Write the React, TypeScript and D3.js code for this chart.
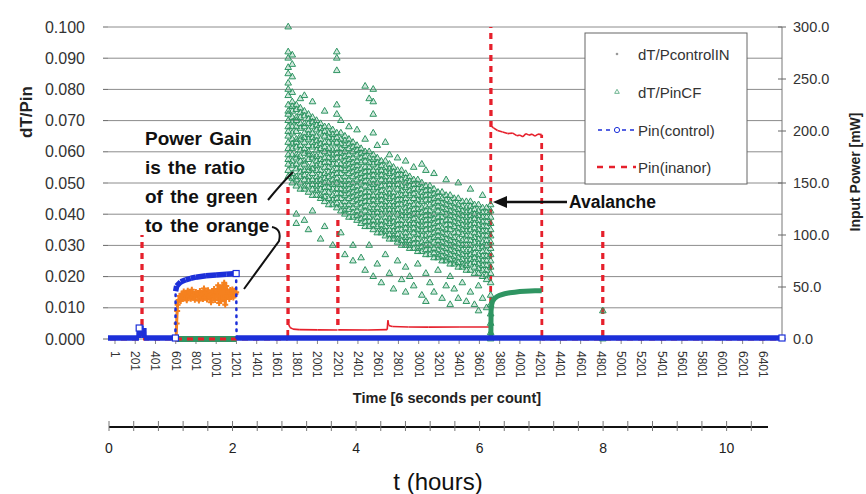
import React from 'react';
import * as d3 from 'd3';

const width = 866;
const height = 494;
const font = '"Liberation Sans", Arial, sans-serif';

// axis ticks
const leftTicks = [0, 0.01, 0.02, 0.03, 0.04, 0.05, 0.06, 0.07, 0.08, 0.09, 0.1];
const rightTicks = [0, 50, 100, 150, 200, 250, 300];
const countLabels = [1, 201, 401, 601, 801, 1001, 1201, 1401, 1601, 1801, 2001, 2201, 2401, 2601, 2801, 3001,
  3201, 3401, 3601, 3801, 4001, 4201, 4401, 4601, 4801, 5001, 5201, 5401, 5601, 5801, 6001, 6201, 6401];
const hourLabels = [0, 2, 4, 6, 8, 10];
const hourMinor = [0, 0.4, 0.8, 1.2, 1.6, 2, 2.4, 2.8, 3.2, 3.6, 4, 4.4, 4.8, 5.2, 5.6, 6, 6.4, 6.8, 7.2, 7.6,
  8, 8.4, 8.8, 9.2, 9.6, 10, 10.4];

// dT/PinCF scatter, [count, values in 1/1000]
const greenCols: [number, string][] = [
  [1712, '100 92 90 87 85 82 80 78 75 73 72 70 68 66.5 65 63 61 59 57.5 56 54 52'],
  [1752, '91 88 84 79 76 74.5 73 71 69.5 68 66 64 62.5 61 59 57 55.5 53 51.5 50'],
  [1792, '75 73.5 71 70 68 66.5 64 63 61.5 59 58 56 54.5 52 51 49 40 37'],
  [1832, '77 74 72.5 71 69 67.5 65 64 62 60.5 58.5 57 55 53.5 52 50 48'],
  [1872, '78 73 71.5 69 68 66 64.5 63 61 59.5 57 56 54 52.5 51 49 48 38'],
  [1912, '72 70.5 69 67 65.5 64 62 60 59 57.5 55 54 52 50.5 49 47 35'],
  [1952, '76 71 69.5 68 66 64.5 63 61.5 59 58 56 54.5 53 51 49.5 48 46 41'],
  [1992, '70 68.5 67 65 63.5 62 60.5 58.5 57 55.5 54 52 50.5 49 47.5 46'],
  [2032, '69 67.5 66 64 62.5 61 59 57.5 56 54 52.5 51 49.5 48 46 45 32'],
  [2072, '73 68 66.5 65 63 61.5 60 58 56.5 55 53 51.5 50 48.5 47 45.5 44 36'],
  [2112, '68 66 64.5 63 61 59.5 58 56.5 55 53.5 52 50 48.5 47 45 43'],
  [2152, '67 65.5 64 62.5 60.5 59 57.5 56 54 52.5 51 49.5 48 46 44.5 43 30'],
  [2192, '92 90 86 75 72 66 64.5 63 61 59.5 58 56 54.5 53 51.5 50 48 46.5 45 43.5 42'],
  [2232, '70 66 64 62.5 61 59.5 58 56 54.5 53 51 49.5 48 46.5 45 43 41 34'],
  [2272, '65 63.5 62 60 58.5 57 55.5 54 52 50.5 49 47.5 46 44 42.5 41 40 27'],
  [2312, '68 64 62.5 61 59 57.5 56 54.5 53 51 49.5 48 46.5 45 43 41.5 39'],
  [2352, '63 61.5 60 58 56.5 55 53.5 52 50 48.5 47 45.5 44 42 40.5 39 30 25'],
  [2392, '67 62 60.5 59 57 55.5 54 52.5 51 49 47.5 46 44.5 43 41 39.5 38'],
  [2432, '61 59.5 58 56.5 54.5 53 51.5 50 48 46.5 45 43.5 42 40 38.5 37 26'],
  [2472, '81 64 60 58.5 57 55 53.5 52 50.5 49 47 45.5 44 42.5 41 39 37.5 36 22'],
  [2512, '77 60 58 56.5 55 53.5 52 50 48.5 47 45.5 44 42 40.5 39 37.5 36 30'],
  [2552, '80 76 72 66 59 57.5 56 54 52.5 51 49.5 48 46 44.5 43 41.5 40 38 36.5 35 20'],
  [2592, '62 58 56.5 55 53.5 52 50 48.5 47 45.5 44 42 40.5 39 37.5 36 34 24'],
  [2632, '57 55.5 54 52.5 51 49 47.5 46 44.5 43 41.5 40 38 36.5 35 34 18'],
  [2672, '63 57 55 53.5 52 50.5 49 47 45.5 44 42.5 41 39 37.5 36 34.5 33 27'],
  [2712, '59 56 54.5 53 51 49.5 48 46.5 45 43 41.5 40 38.5 37 35 33.5 32 21'],
  [2752, '55 53.5 52 50.5 49 47 45.5 44 42.5 41 39 37.5 36 34.5 33 32 16'],
  [2792, '58 54 52.5 51 49.5 48 46 44.5 43 41.5 40 38 36.5 35 33.5 32 31 25'],
  [2832, '54 52.5 51 49 47.5 46 44.5 43 41 39.5 38 36.5 35 33 31.5 30 19'],
  [2872, '57 53 51.5 50 48.5 46.5 45 43.5 42 40.5 39 37 35.5 34 32.5 31 30 23 15'],
  [2912, '52 50.5 49 47.5 46 44 42.5 41 39.5 38 36.5 35 33 31.5 30 29 20'],
  [2952, '55 51 49.5 48 46.5 45 43 41.5 40 38.5 37 35.5 34 32 30.5 29 17'],
  [2992, '51 49.5 48 46 44.5 43 41.5 40 38 36.5 35 33.5 32 30.5 29 28 24'],
  [3032, '56 50 48.5 47 45.5 44 42 40.5 39 37.5 36 34.5 33 31 29.5 28 14'],
  [3072, '54 49 47.5 46 44.5 42.5 41 39.5 38 36.5 35 33 31.5 30 28.5 27 21 12'],
  [3112, '49 47.5 46 44.5 43 41 39.5 38 36.5 35 33.5 32 30 28.5 27 18'],
  [3152, '53 48 46.5 45 43.5 42 40 38.5 37 35.5 34 32.5 31 29 27.5 26 15'],
  [3192, '47 45.5 44 42.5 41 39 37.5 36 34.5 33 31.5 30 28.5 27 26 22'],
  [3232, '47 45 43.5 42 40.5 39 37.5 35.5 34 32.5 31 29.5 28 26.5 25 13'],
  [3272, '51 46 44.5 43 41.5 40 38 36.5 35 33.5 32 30.5 29 27.5 26 25 17'],
  [3312, '46 44 42.5 41 39.5 38 36.5 35 33 31.5 30 28.5 27 25.5 24 20 11'],
  [3352, '45 43.5 42 40.5 39 37.5 36 34 32.5 31 29.5 28 26.5 25 24 16'],
  [3392, '50 45 43 41.5 40 38.5 37 35.5 34 32 30.5 29 27.5 26 24.5 23 13'],
  [3432, '44 42.5 41 39.5 38 36.5 35 33.5 31.5 30 28.5 27 25.5 24 23 18'],
  [3472, '44 42 40.5 39 37.5 36 34.5 33 31.5 30 28 26.5 25 23.5 22 12'],
  [3512, '48 44 42.5 41 39.5 38 36.5 35 33 31.5 30 28.5 27 25.5 24 22 15'],
  [3552, '43 41.5 40 38.5 37 35.5 34 32.5 31 29 27.5 26 24.5 23 21 11'],
  [3592, '43 41 39.5 38 36.5 35 33.5 32 30.5 29 27 25.5 24 22.5 21 17 9'],
  [3632, '46 42 40.5 39 37.5 36 34.5 33 31 29.5 28 26.5 25 23.5 22 20 13'],
  [3672, '42 40.5 39 37.5 36 34.5 33 31.5 30 28 26.5 25 23.5 22 20.5 19 10'],
  [3712, '43 41 39 37 35 33 31 29 27 25 23 21 18 14 11 8 5 2 0'],
  [4820, '9 0'],
];

// dT/PinCF after the avalanche, [count, 1/1000]
const greenAfter: [number, number][] = [
  [3714, 0], [3716, 9], [3722, 11], [3732, 12.2], [3750, 13], [3775, 13.6], [3800, 14], [3850, 14.5],
  [3900, 14.8], [3950, 15], [4000, 15.2], [4050, 15.3], [4100, 15.4], [4150, 15.5], [4216, 15.5],
];
const greenBase: [number, number][] = [[600, 0], [1200, 0]];

// dT/PcontrolIN, [count, 1/1000]
const orange: [number, number][] = [
  [605, 0], [610, 5], [615, 9], [620, 11], [630, 12.5], [640, 13.8], [650, 12.2], [660, 14.5], [670, 12.8],
  [680, 15.2], [690, 13.1], [700, 14.6], [710, 12.4], [720, 15.5], [730, 13.6], [740, 14.9], [750, 12.9],
  [760, 15.8], [770, 13.3], [780, 14.2], [790, 12.6], [800, 15.1], [810, 13.9], [820, 14.7], [830, 12.3],
  [840, 15.4], [850, 13.5], [860, 14.4], [870, 12.8], [880, 16.2], [890, 13.2], [900, 14.8], [910, 12.7],
  [920, 15.6], [930, 13.4], [940, 14.1], [950, 11.8], [960, 15.3], [970, 13.7], [980, 16.0], [990, 12.5],
  [1000, 15.0], [1010, 13.8], [1020, 17.2], [1030, 11.5], [1040, 16.4], [1050, 12.2], [1060, 16.8],
  [1070, 13.0], [1080, 18.0], [1090, 11.0], [1100, 17.0], [1110, 13.9], [1120, 15.2], [1130, 12.8],
  [1140, 15.7], [1150, 14.0], [1160, 15.9], [1170, 13.3], [1180, 15.5], [1190, 14.4], [1198, 15.0],
];

// Pin(control) mW
const blue: [number, number][] = [
  [-68, 0], [238, 0], [240, 9.6], [286, 9.6], [288, 0], [598, 0], [600, 45], [610, 50], [650, 54],
  [700, 56], [750, 57.4], [800, 58.5], [900, 59.8], [1000, 60.6], [1100, 61.2], [1198, 62], [1202, 0],
  [6590, 0],
];

// Pin(inanor) mW
const red: [number, number][] = [
  [-68, 0], [266, 0], [268, 100], [270, 0], [1708, 0], [1710, 150], [1713, 15], [1730, 11], [1760, 9.5],
  [1820, 9], [2000, 8.8], [2200, 8.6], [2203, 117], [2206, 8.8], [2500, 8.7], [2690, 9], [2697, 18],
  [2705, 13], [2740, 12], [2900, 11.6], [3100, 11.4], [3400, 11.5], [3700, 11.6], [3712, 11.5],
  [3714, 300], [3717, 205], [3740, 203], [3780, 200.5], [3830, 199], [3880, 197.5], [3930, 198],
  [3970, 195.5], [4000, 196], [4030, 194.5], [4060, 197.5], [4090, 196], [4120, 197], [4150, 195],
  [4180, 197], [4216, 196.5], [4218, 0], [4818, 0], [4820, 107], [4822, 0], [6590, 0],
];

const x = d3.scaleLinear().domain([-68, 6590]).range([108, 782]);
const yL = d3.scaleLinear().domain([0, 0.1]).range([339, 27]);
const yR = d3.scaleLinear().domain([0, 300]).range([339, 27]);
const xh = d3.scaleLinear().domain([0, 10.67]).range([109, 768]);

const tri = d3.symbol(d3.symbolTriangle, 19)() as string;
const GREEN = '#2f9562';
const BLUE = '#1c2fd9';
const RED = '#e6202c';
const ORANGE = '#f5811f';

function pairs(data: [number, number][]) {
  const out: [number, number, number, number][] = [];
  for (let i = 1; i < data.length; i++) out.push([data[i - 1][0], data[i - 1][1], data[i][0], data[i][1]]);
  return out;
}

// dashed jumps drawn top-down with a fixed phase so up/down strokes overlap cleanly
function jumpLine(c0: number, v0: number, c1: number, v1: number, y: (v: number) => number) {
  let a = { x: x(c0), y: y(v0) };
  let b = { x: x(c1), y: y(v1) };
  if (a.y > b.y) [a, b] = [b, a];
  return { a, b };
}

export default function App() {
  const greenPts: [number, number][] = [];
  greenCols.forEach(([c, s]) => s.split(' ').forEach(v => greenPts.push([c, +v / 1000])));
  const lineL = d3.line<[number, number]>().x(d => x(d[0])).y(d => yL(d[1] / 1000));

  return (
    <svg width={width} height={height} style={{ position: 'absolute', left: 0, top: 0, background: '#fff' }}
      fontFamily={font}>
      {/* grid */}
      {leftTicks.map(t => (
        <g key={t}>
          <line x1={108} x2={782} y1={yL(t)} y2={yL(t)} stroke="#8c8c8c" strokeWidth={1} />
          <line x1={103} x2={108} y1={yL(t)} y2={yL(t)} stroke="#666" />
          <text x={85} y={yL(t)} textAnchor="end" dominantBaseline="central" fontSize={16} fill="#333">
            {t.toFixed(3)}
          </text>
        </g>
      ))}
      <line x1={782} x2={782} y1={27} y2={339} stroke="#777" />
      {rightTicks.map(t => (
        <g key={t}>
          <line x1={778} x2={786} y1={yR(t)} y2={yR(t)} stroke="#666" />
          <text x={793} y={yR(t)} dominantBaseline="central" fontSize={14.5} fill="#333">{t.toFixed(1)}</text>
        </g>
      ))}
      <text transform="translate(26,112) rotate(-90)" textAnchor="middle" dominantBaseline="central"
        fontSize={17} fontWeight="bold" fill="#222">dT/Pin</text>
      <text transform="translate(855,172) rotate(-90)" textAnchor="middle" dominantBaseline="central"
        fontSize={14} fontWeight="bold" fill="#222">Input Power [mW]</text>

      {/* count axis */}
      {countLabels.map(c => (
        <g key={c}>
          <line x1={x(c)} x2={x(c)} y1={339} y2={344} stroke="#888" />
          <text transform={`translate(${x(c)},351) rotate(90)`} dominantBaseline="central" fontSize={12}
            fill="#333">{c}</text>
        </g>
      ))}
      <text x={447} y={398} textAnchor="middle" dominantBaseline="central" fontSize={14.5} fontWeight="bold"
        fill="#222">Time [6 seconds per count]</text>

      {/* series */}
      <path d={lineL(greenBase) as string} stroke={GREEN} strokeWidth={6} fill="none" />
      {pairs(red).map(([c0, v0, c1, v1], i) => {
        const jump = Math.abs(v1 - v0) > 20 || (v0 === 0 && v1 === 0);
        if (!jump) {
          return <line key={i} x1={x(c0)} y1={yR(v0)} x2={x(c1)} y2={yR(v1)} stroke={RED} strokeWidth={1.6} />;
        }
        const { a, b } = jumpLine(c0, v0, c1, v1, yR);
        return (
          <line key={i} x1={a.x} y1={a.y} x2={b.x} y2={b.y} stroke={RED} strokeWidth={2.8}
            strokeDasharray="6 5" strokeDashoffset={v0 === 0 && v1 === 0 ? a.x : a.y} />
        );
      })}
      {greenPts.map(([c, v], i) => (
        <path key={i} d={tri} transform={`translate(${x(c)},${yL(v)})`} fill={GREEN} fillOpacity={0.22}
          stroke={GREEN} strokeWidth={1} />
      ))}
      <path d={lineL(greenAfter) as string} stroke={GREEN} strokeWidth={5} fill="none" />
      <path d={lineL(orange) as string} stroke={ORANGE} strokeWidth={3} fill="none" strokeLinejoin="round" />
      {orange.map(([c, v], i) => (
        <path key={i} d={`M-3,0H3M0,-3V3`} transform={`translate(${x(c)},${yL(v / 1000)})`} stroke={ORANGE}
          strokeWidth={2} />
      ))}
      {pairs(blue).map(([c0, v0, c1, v1], i) => {
        const jump = Math.abs(v1 - v0) > 20;
        return (
          <line key={i} x1={x(c0)} y1={yR(v0) - 1} x2={x(c1)} y2={yR(v1) - 1} stroke={BLUE}
            strokeWidth={jump ? 2.5 : 5.5} strokeDasharray={jump ? '1.5 5.5' : undefined}
            strokeLinecap={jump ? 'round' : 'butt'} />
        );
      })}
      {[blue[2], blue[5], blue[15], blue[17]].map(([c, v], i) => (
        <rect key={i} x={x(c) - 3} y={yR(v) - 4} width={6} height={6} fill="#fff" stroke={BLUE}
          strokeWidth={1.2} />
      ))}

      {/* legend */}
      <rect x={585} y={33} width={162} height={151} fill="#fff" stroke="#666" />
      <circle cx={617} cy={54} r={1.3} fill="#999" />
      <text x={638} y={54} dominantBaseline="central" fontSize={15} fill="#333">dT/PcontrolIN</text>
      <path d={tri} transform="translate(617,92) scale(0.7)" fill="none" stroke={GREEN} />
      <text x={638} y={92} dominantBaseline="central" fontSize={15} fill="#333">dT/PinCF</text>
      <line x1={598} x2={636} y1={130} y2={130} stroke={BLUE} strokeWidth={1.5} strokeDasharray="4 4" />
      <circle cx={617} cy={130} r={2.6} fill="#fff" stroke={BLUE} strokeWidth={1} />
      <text x={638} y={130} dominantBaseline="central" fontSize={15} fill="#333">Pin(control)</text>
      <line x1={597} x2={636} y1={167} y2={167} stroke={RED} strokeWidth={2.6} strokeDasharray="6 6" />
      <text x={638} y={167} dominantBaseline="central" fontSize={15} fill="#333">Pin(inanor)</text>

      {/* annotations */}
      {['Power Gain', 'is the ratio', 'of the green', 'to the orange'].map((s, i) => (
        <text key={s} x={145} y={138 + i * 29} dominantBaseline="central" fontSize={19} fontWeight="bold"
          wordSpacing={2} fill="#111">{s}</text>
      ))}
      <path d="M268,200 Q281,184 293,172" stroke="#111" strokeWidth={2} fill="none" />
      <path d="M272,227 Q282,229 279,241 L244,289" stroke="#111" strokeWidth={2} fill="none" />
      <line x1={505} x2={567} y1={202} y2={202} stroke="#111" strokeWidth={2.5} />
      <polygon points="493,202 507,196 507,208" fill="#111" />
      <text x={569} y={202} dominantBaseline="central" fontSize={17.5} fontWeight="bold" fill="#111">Avalanche</text>

      {/* hours axis */}
      <line x1={xh(0)} x2={768} y1={427} y2={427} stroke="#111" strokeWidth={1.8} />
      {hourMinor.map(h => (
        <line key={h} x1={xh(h)} x2={xh(h)} y1={421} y2={431} stroke="#777" />
      ))}
      {hourLabels.map(h => (
        <text key={h} x={xh(h)} y={448} textAnchor="middle" dominantBaseline="central" fontSize={14}
          fill="#222">{h}</text>
      ))}
      <text x={438} y={481} textAnchor="middle" dominantBaseline="central" fontSize={24} fill="#111">t (hours)</text>
    </svg>
  );
}
